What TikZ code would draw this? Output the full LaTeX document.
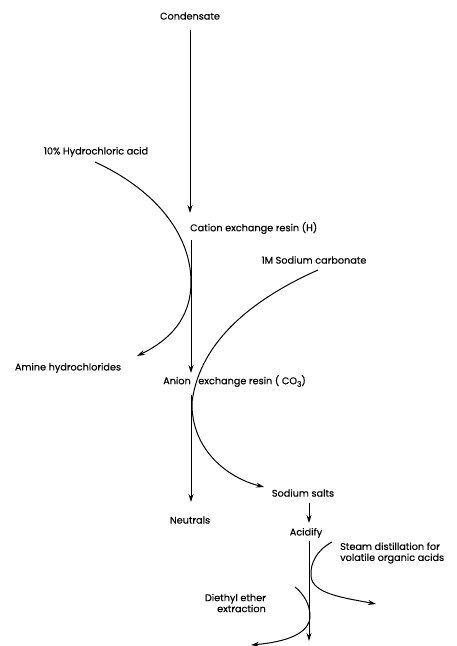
\documentclass[tikz,border=0pt]{standalone}
\usepackage{fontspec}
\setmainfont{Poppins}[BoldFont=Poppins,BoldFeatures={FakeBold=0.25}]
\usetikzlibrary{arrows.meta}
\begin{document}
\begin{tikzpicture}[x=1pt,y=-1pt,
  lbl/.style={inner sep=1pt,font=\fontsize{9.7}{11}\selectfont\bfseries},
  flow/.style={line width=1pt,-{Stealth[length=8pt,width=5pt]}}]
\useasboundingbox (0,0) rectangle (456,646);
\node[lbl] (cond) at (190,16) {Condensate};
\node[lbl,anchor=west] (cat) at (189,228) {Cation exchange resin (H)};
\node[lbl] (hcl) at (96,152) {10\% Hydrochloric acid};
\node[lbl] (amine) at (68,368) {Amine hydrochlorides};
\node[lbl] (naco) at (314,260) {1M Sodium carbonate};
\node[lbl,anchor=west] (anion) at (162,381) {Anion\hspace{5pt} exchange resin ( CO\raisebox{-2.5pt}{\fontsize{7.5}{8}\selectfont 3})};
\node[lbl] (neut) at (190,520) {Neutrals};
\node[lbl] (salts) at (303,493) {Sodium salts};
\node[lbl] (acid) at (306,533) {Acidify};
\node[lbl,anchor=west,align=left] (steam) at (339,553) {Steam distillation for\\volatile organic acids};
\node[lbl,align=right,anchor=east] (ether) at (267,603) {Diethyl ether\\extraction};
% coordinates
\coordinate (c1) at (190,30);
\coordinate (c2) at (190,213);
\coordinate (c3) at (191,240);
\coordinate (c4) at (191,373);
\coordinate (c5) at (191,395);
\coordinate (c6) at (191,502);
\coordinate (c7) at (309,503);
\coordinate (c8) at (309,523);
\coordinate (c9) at (309,541);
\coordinate (c10) at (309,641);
\coordinate (h0) at (95,162);
\coordinate (h1) at (191,282);
\coordinate (h2) at (137,356);
\coordinate (s0) at (318,270);
\coordinate (s1) at (192,402);
\coordinate (s2) at (264,487);
\coordinate (t0) at (332,542);
\coordinate (t1) at (311,576);
\coordinate (t2) at (376,604);
\coordinate (e0) at (295,587);
\coordinate (e1) at (310,616);
\coordinate (e2) at (251,645);
% main line
\draw[flow] (c1) -- (c2);
\draw[flow] (c3) -- (c4);
\draw[flow] (c5) -- (c6);
\draw[flow] (c7) -- (c8);
\draw[flow] (c9) -- (c10);
% curves
\draw[flow] (h0) .. controls (160,192) and (191,238) .. (h1) .. controls (191,318) and (170,340) .. (h2);
\draw[flow] (s0) .. controls (255,298) and (200,340) .. (s1) .. controls (191,450) and (228,478) .. (s2);
\draw[flow] (t0) .. controls (317,550) and (310,563) .. (t1) .. controls (312,594) and (345,598) .. (t2);
\draw[flow] (e0) .. controls (304,594) and (310,605) .. (e1) .. controls (310,634) and (285,642) .. (e2);
\end{tikzpicture}
\end{document}
